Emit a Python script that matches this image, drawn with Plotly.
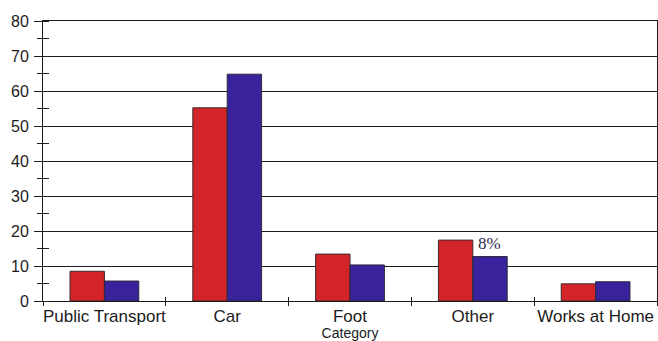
import plotly.graph_objects as go

categories = ["Public Transport", "Car", "Foot", "Other", "Works at Home"]
series_a = [8.5, 55.2, 13.4, 17.4, 4.9]
series_b = [5.7, 64.8, 10.3, 12.7, 5.5]
y_ticks = [0, 10, 20, 30, 40, 50, 60, 70, 80]
note_text = "8%"
note_category = "Other"

RED = "#d3242a"
PURPLE = "#3a229c"
INK = "#1c1c1c"

fig = go.Figure()
fig.add_trace(go.Bar(x=categories, y=series_a, marker=dict(color=RED, line=dict(color="#3a2a2a", width=1)),
                     showlegend=False, hoverinfo="skip"))
fig.add_trace(go.Bar(x=categories, y=series_b, marker=dict(color=PURPLE, line=dict(color="#2a2a3a", width=1)),
                     showlegend=False, hoverinfo="skip"))
# carrier for the overlaid tick-only axes
fig.add_trace(go.Scatter(x=categories, y=series_b, mode="none", xaxis="x2", yaxis="y2",
                         showlegend=False, hoverinfo="skip"))

note_idx = categories.index(note_category)
fig.add_annotation(x=note_category, y=series_b[note_idx], xshift=17, yshift=2,
                   yanchor="bottom", text=note_text, showarrow=False,
                   font=dict(family="Times New Roman, Liberation Serif, DejaVu Serif, serif",
                             size=17, color="#2a2a48"))

fig.update_layout(
    width=658, height=341,
    margin=dict(l=43, r=1, t=21, b=40),
    paper_bgcolor="white", plot_bgcolor="white",
    barmode="group", bargap=0.44, bargroupgap=0,
    font=dict(family="Liberation Sans, Arial, sans-serif", color=INK),
    xaxis=dict(
        type="category", range=[-0.5, 4.5], tickson="boundaries", tickangle=0,
        ticks="outside", ticklen=4, tickcolor=INK, tickwidth=1,
        showline=True, linecolor=INK, linewidth=1, mirror=True,
        showgrid=False, tickfont=dict(size=17, color=INK),
        title=dict(text="Category", font=dict(size=14, color=INK), standoff=0),
    ),
    xaxis2=dict(
        type="category", range=[-0.5, 4.5], overlaying="x", anchor="y",
        tickson="boundaries", ticks="inside", ticklen=4, tickcolor=INK,
        showticklabels=False, showline=False, showgrid=False,
    ),
    yaxis=dict(
        range=[0, 80], tickvals=y_ticks, ticks="outside", ticklen=8, tickcolor=INK,
        showline=True, linecolor=INK, linewidth=1, mirror=True,
        showgrid=True, gridcolor=INK, gridwidth=1, zeroline=False,
        tickfont=dict(size=16, color=INK), ticklabelstandoff=2,
        minor=dict(dtick=5, ticks="inside", ticklen=6, tickcolor=INK, showgrid=False),
    ),
    yaxis2=dict(
        range=[0, 80], overlaying="y", anchor="x", side="left",
        showticklabels=False, ticks="", showline=False, showgrid=False, zeroline=False,
        minor=dict(dtick=5, ticks="outside", ticklen=5, tickcolor=INK, showgrid=False),
    ),
)

fig.write_html("out.html")
